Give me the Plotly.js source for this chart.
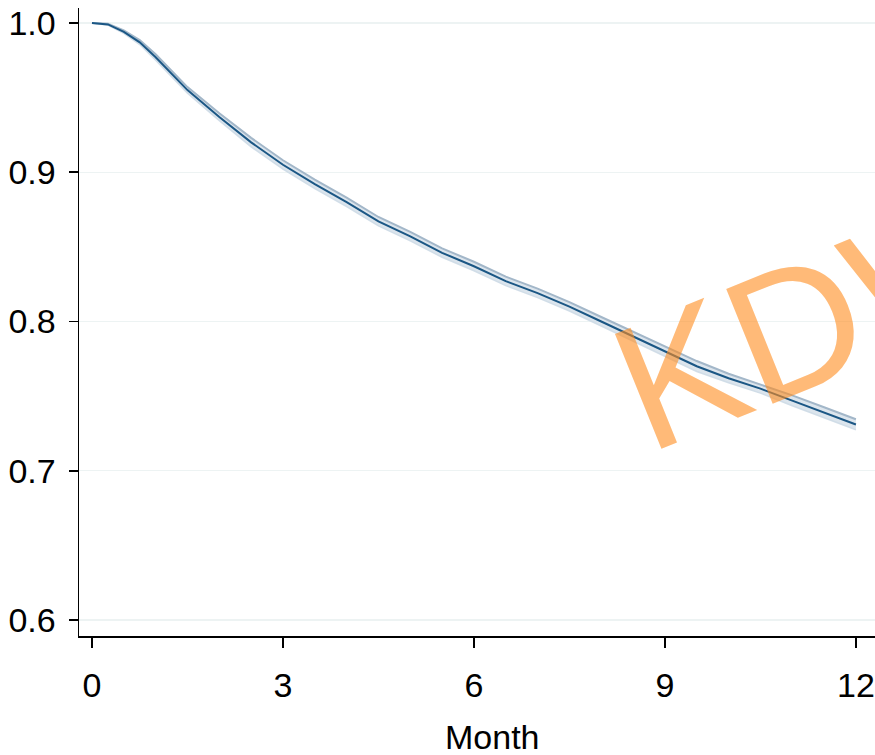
<!DOCTYPE html>
<html>
<head>
<meta charset="utf-8">
<script src="https://cdn.plot.ly/plotly-3.0.1.min.js"></script>
<style>html,body{margin:0;padding:0;background:#fff;}#chart{width:875px;height:755px;}</style>
</head>
<body>
<div id="chart"></div>
<script>
const months = [0, 0.25, 0.5, 0.75, 1, 1.5, 2, 2.5, 3, 3.5, 4, 4.5, 5, 5.5, 6, 6.5, 7, 7.5, 8, 8.5, 9, 9.5, 10, 10.5, 11, 11.5, 12];
const survival = [1.000, 0.999, 0.994, 0.987, 0.977, 0.955, 0.937, 0.920, 0.905, 0.892, 0.880, 0.867, 0.857, 0.846, 0.837, 0.827, 0.819, 0.810, 0.800, 0.790, 0.780, 0.770, 0.762, 0.755, 0.747, 0.739, 0.731];
const upperCI = [1.000, 0.9995, 0.995, 0.9885, 0.979, 0.957, 0.9395, 0.923, 0.908, 0.895, 0.883, 0.870, 0.860, 0.849, 0.840, 0.830, 0.822, 0.813, 0.803, 0.793, 0.783, 0.7735, 0.765, 0.758, 0.7505, 0.7425, 0.7345];
const lowerCI = [1.000, 0.9985, 0.993, 0.9855, 0.975, 0.953, 0.9345, 0.917, 0.902, 0.889, 0.877, 0.864, 0.854, 0.843, 0.834, 0.824, 0.816, 0.807, 0.797, 0.787, 0.777, 0.7665, 0.759, 0.752, 0.7435, 0.7355, 0.7275];
const xTicks = [0, 3, 6, 9, 12];
const yTicks = [0.6, 0.7, 0.8, 0.9, 1.0];
const yTickText = ['0.6', '0.7', '0.8', '0.9', '1.0'];
const xTitle = 'Month';
const watermark = 'KDW';

const traces = [
  {x: months, y: upperCI, mode: 'lines', line: {color: '#a3b7c9', width: 2}, hoverinfo: 'skip', showlegend: false},
  {x: months, y: lowerCI, mode: 'lines', fill: 'tonexty', fillcolor: 'rgba(205,218,230,0.7)', line: {color: 'rgba(205,218,230,0.9)', width: 1.5}, hoverinfo: 'skip', showlegend: false},
  {x: months, y: survival, mode: 'lines', line: {color: '#1b5785', width: 2}, showlegend: false}
];

const font = {family: 'Liberation Sans, Arial, sans-serif', size: 34, color: '#000'};
const layout = {
  width: 875, height: 755,
  margin: {l: 79, r: 0, t: 8, b: 119},
  paper_bgcolor: '#fff', plot_bgcolor: '#fff',
  showlegend: false,
  font: font,
  xaxis: {
    range: [-0.204, 12.3],
    tickvals: xTicks, ticktext: xTicks.map(String),
    ticks: 'outside', ticklen: 10, tickwidth: 1.5, tickcolor: '#000',
    showline: true, linecolor: '#000', linewidth: 1.5,
    showgrid: false, zeroline: false,
    ticklabelstandoff: 9,
    tickfont: font
  },
  yaxis: {
    range: [0.5893, 1.01],
    tickvals: yTicks, ticktext: yTickText,
    ticks: 'outside', ticklen: 9, tickwidth: 1.5, tickcolor: '#000',
    showline: true, linecolor: '#000', linewidth: 1.5,
    showgrid: true, gridcolor: '#edf3f3', gridwidth: 1.2,
    zeroline: false,
    ticklabelstandoff: 6,
    tickfont: font
  },
  annotations: [
    {
      xref: 'paper', yref: 'paper', x: 0.52, y: -0.161,
      text: xTitle, showarrow: false, font: font,
      xanchor: 'center', yanchor: 'middle'
    },
    {
      xref: 'paper', yref: 'paper', x: 0.93, y: 0.507,
      text: watermark, showarrow: false, textangle: -22,
      font: {family: 'Liberation Sans, Arial, sans-serif', size: 180, color: 'rgba(255,140,30,0.6)'},
      xanchor: 'center', yanchor: 'middle'
    }
  ]
};
Plotly.newPlot('chart', traces, layout, {staticPlot: true, displayModeBar: false});
</script>
</body>
</html>
